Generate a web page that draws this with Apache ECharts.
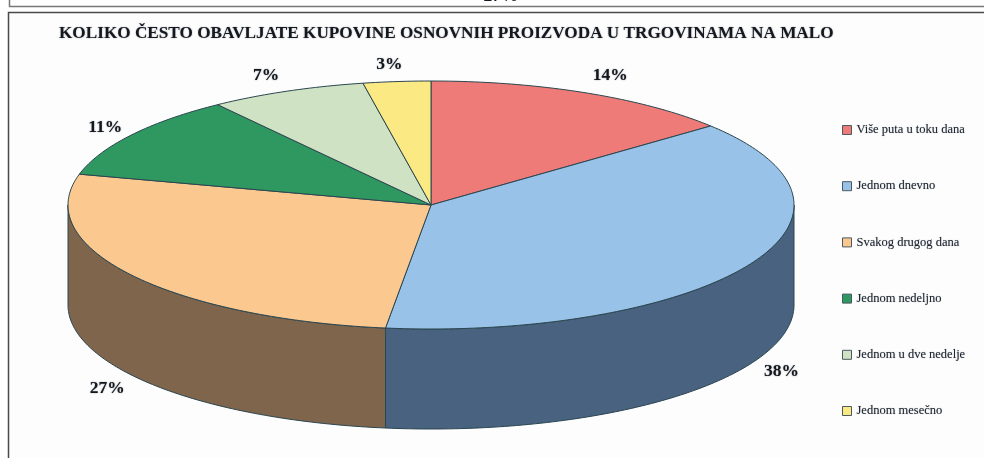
<!DOCTYPE html>
<html>
<head>
<meta charset="utf-8">
<style>html,body{margin:0;padding:0;background:#fff}#c{width:984px;height:458px}</style>
<script src="https://cdn.jsdelivr.net/npm/echarts@6/dist/echarts.min.js"></script>
</head>
<body>
<div id="c"></div>
<script>
var categories = ['Više puta u toku dana','Jednom dnevno','Svakog drugog dana','Jednom nedeljno','Jednom u dve nedelje','Jednom mesečno'];
var shares = [14, 38, 27, 11, 7, 3];
var topColors = ['#ee7b78','#98c2e8','#fbc98f','#2f9760','#cfe3c4','#fbe983'];
var sideColors = ['#77403e','#48627f','#7f654b','#1c5a3a','#677162','#7d7441'];
var titleText = 'KOLIKO ČESTO OBAVLJATE KUPOVINE OSNOVNIH PROIZVODA U TRGOVINAMA NA MALO';
var clippedText = '27%';

var cx = 431, cy = 205, rx = 363, ry = 124, depth = 100;
var labelRx = 400, labelRy = 142;
var labelNudgeX = [9, 0, 7, 5, -6, -4];
var labelNudgeY = [-1, -2, 4, 2, 1, 1];
var stroke = '#2b4650';
var total = shares.reduce(function (a, b) { return a + b; }, 0);
var DEG = Math.PI / 180;

function pt(angle, dy) {
  return [cx + rx * Math.sin(angle * DEG), cy - ry * Math.cos(angle * DEG) + (dy || 0)];
}
function arc(a0, a1, dy) {
  var out = [], n = Math.max(2, Math.ceil(Math.abs(a1 - a0)));
  for (var i = 0; i <= n; i++) out.push(pt(a0 + (a1 - a0) * i / n, dy));
  return out;
}

var series = categories.map(function (name, idx) {
  var before = shares.slice(0, idx).reduce(function (a, b) { return a + b; }, 0);
  return {
    type: 'custom', name: name, coordinateSystem: 'none', silent: true, animation: false,
    itemStyle: { color: topColors[idx] },
    data: [{ name: name, value: shares[idx] }],
    renderItem: function (params, api) {
      var start = before / total * 360;
      var end = start + api.value(0) / total * 360;
      var children = [];
      var s0 = Math.max(start, 90), s1 = Math.min(end, 270);
      if (s1 > s0) {
        children.push({ type: 'polygon',
          shape: { points: arc(s0, s1, 0).concat(arc(s1, s0, depth)) },
          style: { fill: sideColors[idx], stroke: stroke, lineWidth: 1 } });
      }
      children.push({ type: 'polygon',
        shape: { points: [[cx, cy]].concat(arc(start, end, 0)) },
        style: { fill: topColors[idx], stroke: stroke, lineWidth: 1, lineJoin: 'round' } });
      var mid = (start + end) / 2;
      var sin = Math.sin(mid * DEG), cos = Math.cos(mid * DEG);
      var front = mid > 90 && mid < 270;
      children.push({ type: 'text',
        x: cx + labelRx * sin + labelNudgeX[idx],
        y: cy - labelRy * cos + (front ? depth : 0) + labelNudgeY[idx],
        style: { text: api.value(0) + '%', fill: '#14181e', align: 'center', verticalAlign: 'middle',
          font: 'bold 17.5px "Liberation Serif"', textShadowColor: 'rgba(20,30,50,0.45)', textShadowBlur: 1.5 } });
      return { type: 'group', children: children };
    }
  };
});

var chart = echarts.init(document.getElementById('c'), null, { renderer: 'canvas' });
chart.setOption({
  animation: false,
  backgroundColor: '#ffffff',
  title: { text: titleText, left: 59, top: 24, padding: 0,
    textStyle: { fontFamily: 'Liberation Serif', fontWeight: 'bold', fontSize: 17.2, color: '#15191f',
      textShadowColor: 'rgba(20,30,50,0.45)', textShadowBlur: 1.5, lineHeight: 20 } },
  legend: { orient: 'vertical', left: 837, top: 118, itemWidth: 9, itemHeight: 9, itemGap: 42.2, icon: 'rect',
    data: categories, selectedMode: false,
    itemStyle: { borderColor: '#4b5a60', borderWidth: 1 },
    textStyle: { fontFamily: 'Liberation Serif', fontSize: 12.5, color: '#1d2530',
      lineHeight: 14, textShadowColor: 'rgba(20,30,50,0.4)', textShadowBlur: 1 } },
  graphic: [
    { type: 'rect', z: -10, shape: { x: 9, y: 13, width: 975, height: 445 }, style: { fill: '#fdfdfd' }, silent: true },
    { type: 'polyline', z: 10, shape: { points: [[9.5, 0], [9.5, 6.5], [984, 6.5]] }, style: { fill: null, stroke: '#777777', lineWidth: 1.5 }, silent: true },
    { type: 'polyline', z: 10, shape: { points: [[8.5, 458], [8.5, 12.5], [984, 12.5]] }, style: { fill: null, stroke: '#4a4a4a', lineWidth: 1.5 }, silent: true },
    { type: 'text', z: 5, x: 501, y: -13, style: { text: clippedText, align: 'center', fill: '#14181e', font: 'bold 17.5px "Liberation Serif"' }, silent: true }
  ],
  series: series
});
</script>
</body>
</html>
